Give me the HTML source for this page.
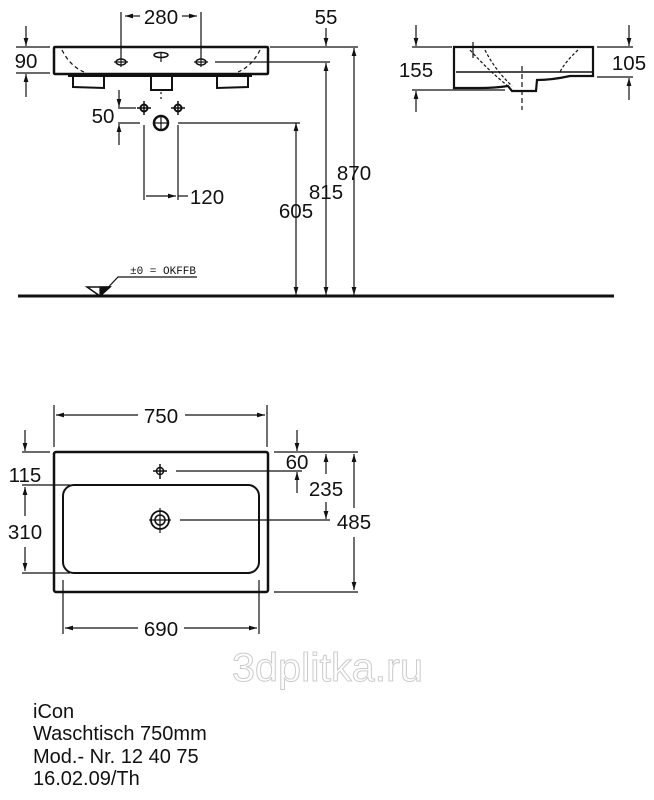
<!DOCTYPE html>
<html><head><meta charset="utf-8"><style>
html,body{margin:0;padding:0;background:#fff;}
svg{display:block;}
text{font-family:"Liberation Sans",Arial,sans-serif;fill:#111;}
</style></head><body>
<svg width="654" height="800" viewBox="0 0 654 800" xmlns="http://www.w3.org/2000/svg">
<defs>
<marker id="a" viewBox="0 0 10 10" refX="10" refY="5" markerWidth="8" markerHeight="8" orient="auto-start-reverse" markerUnits="userSpaceOnUse"><path d="M0,2 L10,5 L0,8 Z" fill="#111"/></marker>
</defs>
<g stroke="#111" fill="none" stroke-width="1.2">
<rect x="54" y="47" width="214" height="27" stroke-width="2.5" rx="1"/>
<path d="M62,50 Q70,66 84,72 M260,50 Q252,66 238,72" stroke-dasharray="4,3"/>
<path d="M68,76 L252,76" stroke-width="2"/>
<path d="M73,74 L73,87 L104,88 L104,77" stroke-width="2"/>
<path d="M217,77 L217,88 L248,87 L248,74" stroke-width="2"/>
<path d="M151,76 L151,90 L172,90 L172,76" stroke-width="2"/>
<line x1="161" y1="92" x2="161" y2="102" stroke-dasharray="2,3"/>
<ellipse cx="161" cy="55" rx="7" ry="2.5" stroke-width="1.5"/><line x1="161" y1="52" x2="161" y2="62"/>
<ellipse cx="121" cy="62" rx="5" ry="3" stroke-width="1.5"/><line x1="114" y1="62" x2="128" y2="62"/>
<ellipse cx="201" cy="62" rx="5" ry="3" stroke-width="1.5"/><line x1="194" y1="62" x2="208" y2="62"/>
<line x1="121" y1="12" x2="121" y2="67"/><line x1="201" y1="12" x2="201" y2="67"/>
<line x1="125" y1="16" x2="140" y2="16" marker-start="url(#a)"/><line x1="182" y1="16" x2="197" y2="16" marker-end="url(#a)"/>
<line x1="16" y1="47" x2="50" y2="47"/><line x1="16" y1="73" x2="50" y2="73"/>
<line x1="26" y1="26" x2="26" y2="46" marker-end="url(#a)"/><line x1="26" y1="97" x2="26" y2="74" marker-end="url(#a)"/>
<line x1="270" y1="47" x2="358" y2="47"/><line x1="215" y1="62" x2="330" y2="62"/>
<line x1="326" y1="28" x2="326" y2="46" marker-end="url(#a)"/>
<line x1="354" y1="48" x2="354" y2="295" marker-start="url(#a)" marker-end="url(#a)"/>
<line x1="326" y1="63" x2="326" y2="295" marker-start="url(#a)" marker-end="url(#a)"/>
<line x1="296" y1="123" x2="296" y2="295" marker-start="url(#a)" marker-end="url(#a)"/>
<circle cx="144" cy="108" r="3.5" stroke-width="2"/><line x1="137" y1="108" x2="151" y2="108" stroke-width="1.5"/><line x1="144" y1="101" x2="144" y2="115" stroke-width="1.5"/>
<circle cx="178" cy="108" r="3.5" stroke-width="2"/><line x1="171" y1="108" x2="185" y2="108" stroke-width="1.5"/><line x1="178" y1="101" x2="178" y2="115" stroke-width="1.5"/>
<circle cx="161" cy="123" r="7" stroke-width="2.5"/><line x1="154" y1="123" x2="168" y2="123"/><line x1="161" y1="116" x2="161" y2="130"/>
<line x1="118" y1="108" x2="136" y2="108"/><line x1="118" y1="123" x2="140" y2="123"/>
<line x1="119" y1="90" x2="119" y2="107" marker-end="url(#a)"/><line x1="119" y1="145" x2="119" y2="124" marker-end="url(#a)"/>
<line x1="178" y1="123" x2="300" y2="123"/>
<line x1="144" y1="125" x2="144" y2="200"/><line x1="178" y1="125" x2="178" y2="200"/>
<line x1="146" y1="196" x2="176" y2="196" marker-end="url(#a)"/><line x1="178" y1="196" x2="188" y2="196"/>
<line x1="18" y1="296" x2="614" y2="296" stroke-width="3"/>
<path d="M87,287 L110,287 L100,296 Z" fill="#fff" stroke-width="1.5"/><path d="M100,287 L110,287 L100,296 Z" fill="#111"/>
<path d="M100,296 L118,277 L197,277"/>
<path d="M454,47 L593,47 L593,76 L570,76 Q552,80 537,80 L536,91 L512,91 L508,86 Q495,88 480,88 L454,88 Z" stroke-width="2.2"/>
<line x1="456" y1="72" x2="593" y2="72" stroke-width="1.5"/>
<path d="M485,50 Q495,70 512,86 M470,50 Q490,72 508,86 M578,50 Q565,62 560,72" stroke-dasharray="3,2"/>
<line x1="473" y1="42" x2="473" y2="58"/>
<line x1="522" y1="66" x2="522" y2="110" stroke-dasharray="5,3"/>
<line x1="412" y1="47" x2="452" y2="47"/><line x1="412" y1="90" x2="505" y2="90"/>
<line x1="597" y1="47" x2="633" y2="47"/><line x1="597" y1="77" x2="633" y2="77"/>
<line x1="416" y1="25" x2="416" y2="46" marker-end="url(#a)"/><line x1="416" y1="112" x2="416" y2="91" marker-end="url(#a)"/>
<line x1="629" y1="25" x2="629" y2="46" marker-end="url(#a)"/><line x1="629" y1="100" x2="629" y2="78" marker-end="url(#a)"/>
<rect x="54" y="452" width="214" height="140" stroke-width="2.5" rx="2"/>
<rect x="63" y="485" width="196" height="88" rx="11" stroke-width="2"/>
<line x1="54" y1="405" x2="54" y2="447"/><line x1="267" y1="405" x2="267" y2="447"/>
<line x1="56" y1="415" x2="138" y2="415" marker-start="url(#a)"/><line x1="185" y1="415" x2="265" y2="415" marker-end="url(#a)"/>
<line x1="63" y1="580" x2="63" y2="634"/><line x1="259" y1="580" x2="259" y2="634"/>
<line x1="65" y1="628" x2="138" y2="628" marker-start="url(#a)"/><line x1="184" y1="628" x2="257" y2="628" marker-end="url(#a)"/>
<line x1="22" y1="452" x2="50" y2="452"/><line x1="22" y1="485" x2="70" y2="485"/><line x1="22" y1="573" x2="70" y2="573"/>
<line x1="25" y1="430" x2="25" y2="451" marker-end="url(#a)"/>
<line x1="25" y1="487" x2="25" y2="516" marker-start="url(#a)"/><line x1="25" y1="547" x2="25" y2="571" marker-end="url(#a)"/>
<line x1="274" y1="452" x2="358" y2="452"/><line x1="274" y1="592" x2="358" y2="592"/>
<line x1="354" y1="454" x2="354" y2="508" marker-start="url(#a)"/><line x1="354" y1="537" x2="354" y2="590" marker-end="url(#a)"/>
<line x1="326" y1="454" x2="326" y2="474" marker-start="url(#a)"/><line x1="326" y1="502" x2="326" y2="519" marker-end="url(#a)"/>
<line x1="297" y1="430" x2="297" y2="451" marker-end="url(#a)"/><line x1="297" y1="493" x2="297" y2="472" marker-end="url(#a)"/>
<circle cx="160" cy="471" r="3.5" stroke-width="1.5"/><line x1="153" y1="471" x2="167" y2="471" stroke-width="1.5"/><line x1="160" y1="464" x2="160" y2="479" stroke-width="1.5"/>
<line x1="176" y1="471" x2="302" y2="471"/>
<circle cx="160" cy="520" r="9" stroke-width="1.8"/><circle cx="160" cy="520" r="5" stroke-width="1.5"/>
<line x1="149" y1="520" x2="171" y2="520"/><line x1="160" y1="508" x2="160" y2="533"/>
<line x1="180" y1="520" x2="330" y2="520"/>
</g>
<g font-size="20.5">
<text x="161" y="24" text-anchor="middle">280</text>
<text x="326" y="24" text-anchor="middle">55</text>
<text x="26" y="68" text-anchor="middle">90</text>
<text x="103" y="123" text-anchor="middle">50</text>
<text x="207" y="204" text-anchor="middle">120</text>
<text x="354" y="180" text-anchor="middle">870</text>
<text x="326" y="199" text-anchor="middle">815</text>
<text x="296" y="218" text-anchor="middle">605</text>
<text x="416" y="77" text-anchor="middle">155</text>
<text x="629" y="70" text-anchor="middle">105</text>
<text x="161" y="423" text-anchor="middle">750</text>
<text x="161" y="636" text-anchor="middle">690</text>
<text x="25" y="482" text-anchor="middle">115</text>
<text x="25" y="539" text-anchor="middle">310</text>
<text x="297" y="469" text-anchor="middle">60</text>
<text x="326" y="496" text-anchor="middle">235</text>
<text x="354" y="529" text-anchor="middle">485</text>
</g>
<text x="130" y="274" font-size="11" style="font-family:'Liberation Mono',monospace">±0 = OKFFB</text>
<text x="232" y="681" font-size="40" textLength="191" lengthAdjust="spacingAndGlyphs" style="fill:#fff;stroke:#ccc;stroke-width:1">3dplitka.ru</text>
<g font-size="20">
<text x="33" y="718">iCon</text>
<text x="33" y="740">Waschtisch 750mm</text>
<text x="33" y="763">Mod.- Nr. 12 40 75</text>
<text x="33" y="785">16.02.09/Th</text>
</g>
</svg>
</body></html>
